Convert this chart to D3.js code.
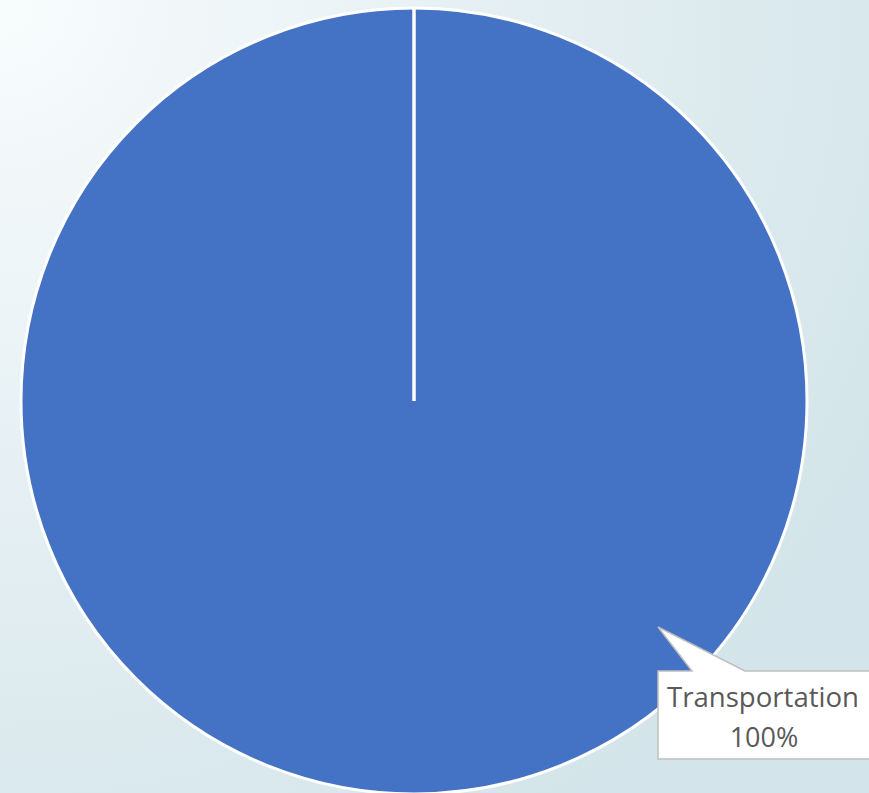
<!DOCTYPE html>
<html>
<head>
<meta charset="utf-8">
<script src="https://cdn.jsdelivr.net/npm/d3@7"></script>
<style>
  html, body { margin: 0; padding: 0; overflow: hidden; }
  svg { display: block; }
</style>
</head>
<body>
<svg class="chart" width="869" height="793"></svg>
<script>
// data
var categories = ["Transportation"];
var values = [100];
var colors = ["#4472c4"];

var svg = d3.select("svg.chart"),
    width = 869,
    height = 793;

// background gradient
var defs = svg.append("defs");
var grad = defs.append("radialGradient")
    .attr("id", "bg")
    .attr("gradientUnits", "userSpaceOnUse")
    .attr("cx", 0).attr("cy", 0).attr("r", 1000);
grad.append("stop").attr("offset", "0%").attr("stop-color", "#f8fcfd");
grad.append("stop").attr("offset", "55%").attr("stop-color", "#e3eef2");
grad.append("stop").attr("offset", "100%").attr("stop-color", "#d3e5ea");
svg.append("rect").attr("width", width).attr("height", height).attr("fill", "url(#bg)");

var cx = 414, cy = 401, radius = 393;
var g = svg.append("g").attr("transform", "translate(" + cx + "," + cy + ")");

var pie = d3.pie().sort(null).value(function(d) { return d; });
var arc = d3.arc().innerRadius(0).outerRadius(radius);
var arcs = pie(values);

g.selectAll("path.slice")
    .data(arcs)
  .enter().append("path")
    .attr("class", "slice")
    .attr("d", arc)
    .attr("fill", function(d, i) { return colors[i]; })
    .attr("stroke", "#fff")
    .attr("stroke-width", 3);

// slice borders (radial edge)
g.selectAll("line.edge")
    .data(arcs)
  .enter().append("line")
    .attr("class", "edge")
    .attr("x1", 0).attr("y1", 0)
    .attr("x2", function(d) { return radius * Math.sin(d.startAngle); })
    .attr("y2", function(d) { return -radius * Math.cos(d.startAngle); })
    .attr("stroke", "#fff")
    .attr("stroke-width", 3.5);

// callout label
var fmt = function(d) { return Math.round(d.value / d3.sum(values) * 100) + "%"; };
var bx = 658, by = 671, bw = 214, bh = 88;
var tipX = 658, tipY = 627;

var callout = svg.selectAll("g.callout")
    .data(arcs)
  .enter().append("g").attr("class", "callout");

callout.append("path")
    .attr("d", "M" + bx + "," + by +
        "L" + 692 + "," + by +
        "L" + tipX + "," + tipY +
        "L" + 745 + "," + by +
        "L" + (bx + bw) + "," + by +
        "L" + (bx + bw) + "," + (by + bh) +
        "L" + bx + "," + (by + bh) + "Z")
    .attr("fill", "#fff")
    .attr("stroke", "#bfbfbf")
    .attr("stroke-width", 1.5);

callout.append("text")
    .attr("x", 763).attr("y", 707)
    .attr("text-anchor", "middle")
    .attr("font-family", "Open Sans, Liberation Sans, sans-serif")
    .attr("font-size", 27)
    .attr("fill", "#595959")
    .attr("textLength", 192)
    .attr("lengthAdjust", "spacingAndGlyphs")
    .text(function(d, i) { return categories[i]; });

callout.append("text")
    .attr("x", 764).attr("y", 747)
    .attr("text-anchor", "middle")
    .attr("font-family", "Open Sans, Liberation Sans, sans-serif")
    .attr("font-size", 27)
    .attr("fill", "#595959")
    .text(fmt);
</script>
</body>
</html>
